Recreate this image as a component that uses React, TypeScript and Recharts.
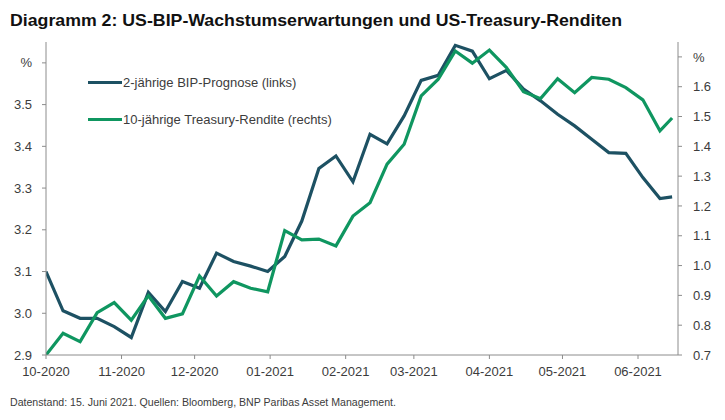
import React from 'react';
import { LineChart, Line, XAxis, YAxis, Legend } from 'recharts';

const dates = [
  '2020-10-01', '2020-10-08', '2020-10-15', '2020-10-22', '2020-10-29',
  '2020-11-05', '2020-11-12', '2020-11-19', '2020-11-26',
  '2020-12-03', '2020-12-10', '2020-12-17', '2020-12-24', '2020-12-31',
  '2021-01-07', '2021-01-14', '2021-01-21', '2021-01-28',
  '2021-02-04', '2021-02-11', '2021-02-18', '2021-02-25',
  '2021-03-04', '2021-03-11', '2021-03-18', '2021-03-25',
  '2021-04-01', '2021-04-08', '2021-04-15', '2021-04-22', '2021-04-29',
  '2021-05-06', '2021-05-13', '2021-05-20', '2021-05-27',
  '2021-06-03', '2021-06-10', '2021-06-15',
];

const gdpForecast = [
  3.100, 3.006, 2.988, 2.988, 2.968,
  2.942, 3.050, 3.004, 3.076,
  3.060, 3.144, 3.124, 3.113, 3.100,
  3.136, 3.221, 3.347, 3.377,
  3.315, 3.429, 3.406, 3.473,
  3.558, 3.570, 3.642, 3.628,
  3.562, 3.582, 3.537, 3.509, 3.477,
  3.449, 3.417, 3.385, 3.383,
  3.325, 3.275, 3.279,
];

const treasuryYield = [
  0.700, 0.773, 0.745, 0.842, 0.876,
  0.817, 0.899, 0.823, 0.838,
  0.965, 0.898, 0.946, 0.924, 0.912,
  1.117, 1.086, 1.089, 1.066,
  1.166, 1.211, 1.340, 1.407,
  1.569, 1.625, 1.720, 1.679,
  1.723, 1.664, 1.583, 1.560, 1.627,
  1.580, 1.631, 1.625, 1.597,
  1.556, 1.452, 1.495,
];

const monthTicks = [
  '2020-10-01', '2020-11-01', '2020-12-01', '2021-01-01', '2021-02-01',
  '2021-03-01', '2021-04-01', '2021-05-01', '2021-06-01',
];

const leftTicks = [2.9, 3.0, 3.1, 3.2, 3.3, 3.4, 3.5, 3.6];
const rightTicks = [0.7, 0.8, 0.9, 1.0, 1.1, 1.2, 1.3, 1.4, 1.5, 1.6, 1.7];

const seriesNames = ['2-jährige BIP-Prognose (links)', '10-jährige Treasury-Rendite (rechts)'];
const titleText = 'Diagramm 2: US-BIP-Wachstumserwartungen und US-Treasury-Renditen';
const footerText = 'Datenstand: 15. Juni 2021. Quellen: Bloomberg, BNP Paribas Asset Management.';

const BLUE = '#1d5163';
const GREEN = '#0f9660';
const AXIS = '#8c8c8c';
const TEXT = '#3c3c3c';
const FONT = '"Liberation Sans", Arial, sans-serif';

const toTs = (s: string) => Date.parse(s + 'T00:00:00Z');

const data = dates.map((d, i) => ({
  t: toTs(d),
  gdp: gdpForecast[i],
  ust: treasuryYield[i],
}));

const xDomain = [toTs('2020-10-01'), Date.parse('2021-06-17T10:00:00Z')];
const xTicks = monthTicks.map(toTs);

const fmtMonth = (v: number) => {
  const d = new Date(v);
  const m = String(d.getUTCMonth() + 1).padStart(2, '0');
  return `${m}-${d.getUTCFullYear()}`;
};

const fmtLeft = (v: number) => (Math.abs(v - 3.6) < 1e-6 ? '%' : v.toFixed(1));
const fmtRight = (v: number) => (Math.abs(v - 1.7) < 1e-6 ? '%' : v.toFixed(1));

const legendItems = [
  { name: seriesNames[0], color: BLUE },
  { name: seriesNames[1], color: GREEN },
];

const renderLegend = () => (
  <div style={{ fontFamily: FONT, fontSize: 13, color: TEXT }}>
    {legendItems.map((it) => (
      <div key={it.name} style={{ display: 'flex', alignItems: 'center', height: 37 }}>
        <span style={{ display: 'inline-block', width: 34, height: 3.5, background: it.color }} />
        <span style={{ marginLeft: 1, whiteSpace: 'nowrap' }}>{it.name}</span>
      </div>
    ))}
  </div>
);

const tickStyle = { fill: TEXT, fontSize: 13, fontFamily: FONT };

export default function App() {
  return (
    <div style={{ position: 'absolute', left: 0, top: 0, width: 725, height: 420, background: '#fff', overflow: 'hidden' }}>
      <LineChart
        width={725}
        height={420}
        data={data}
        margin={{ top: 42, right: 0, bottom: 35, left: 0 }}
      >
        <XAxis
          dataKey="t"
          type="number"
          domain={xDomain}
          ticks={xTicks}
          tickFormatter={fmtMonth}
          allowDataOverflow
          height={30}
          tickSize={4}
          tickMargin={8}
          tick={tickStyle}
          stroke={AXIS}
          tickLine={{ stroke: AXIS }}
          axisLine={{ stroke: AXIS }}
          interval={0}
        />
        <YAxis
          yAxisId="left"
          orientation="left"
          domain={[2.9, 3.65]}
          ticks={leftTicks}
          tickFormatter={fmtLeft}
          width={46}
          tickSize={4}
          tickMargin={10}
          tick={tickStyle}
          tickLine={{ stroke: AXIS }}
          axisLine={{ stroke: AXIS }}
          interval={0}
          allowDataOverflow
        />
        <YAxis
          yAxisId="right"
          orientation="right"
          domain={[0.7, 1.75]}
          ticks={rightTicks}
          tickFormatter={fmtRight}
          width={47}
          tickSize={4}
          tickMargin={11}
          tick={tickStyle}
          tickLine={{ stroke: AXIS }}
          axisLine={{ stroke: AXIS }}
          interval={0}
          allowDataOverflow
        />
        <Legend
          layout="vertical"
          align="center"
          verticalAlign="middle"
          content={renderLegend}
          wrapperStyle={{ top: 64, left: 88, width: 320 }}
        />
        <Line
          yAxisId="left"
          type="linear"
          dataKey="gdp"
          name={seriesNames[0]}
          stroke={BLUE}
          strokeWidth={3.2}
          dot={false}
          isAnimationActive={false}
        />
        <Line
          yAxisId="right"
          type="linear"
          dataKey="ust"
          name={seriesNames[1]}
          stroke={GREEN}
          strokeWidth={3.2}
          dot={false}
          isAnimationActive={false}
        />
      </LineChart>
      <svg width={725} height={420} style={{ position: 'absolute', left: 0, top: 0, pointerEvents: 'none' }}>
        <text x={10} y={26} fontFamily={FONT} fontWeight="bold" fontSize={17} fill="#111" textLength={612} lengthAdjust="spacingAndGlyphs">
          {titleText}
        </text>
        <text x={10} y={406} fontFamily={FONT} fontSize={11} fill={TEXT} textLength={386} lengthAdjust="spacingAndGlyphs">
          {footerText}
        </text>
      </svg>
    </div>
  );
}
